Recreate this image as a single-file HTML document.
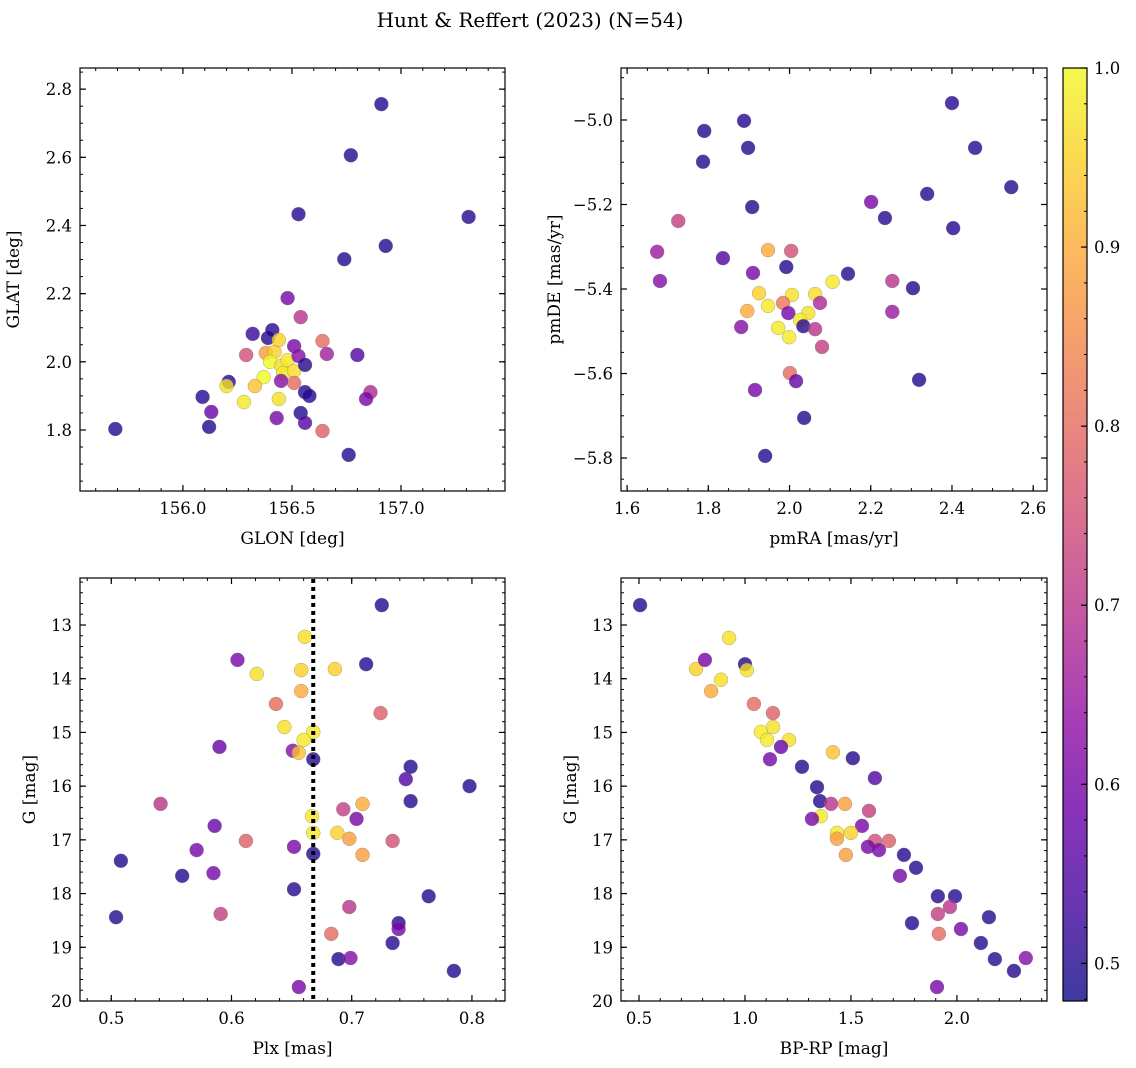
<!DOCTYPE html>
<html><head><meta charset="utf-8"><style>
html,body{margin:0;padding:0;background:#fff}
svg{display:block;font-family:"DejaVu Serif","Liberation Serif",serif}
</style></head><body>
<svg id="c" width="1136" height="1068" viewBox="0 0 1136 1068" xmlns="http://www.w3.org/2000/svg">
<text x="530" y="27" font-size="20" text-anchor="middle">Hunt &amp; Reffert (2023) (N=54)</text>
</svg>
<script>
// Panel 1: GLON, GLAT, prob
const p1Glon=[156.91,156.77,156.53,157.31,156.93,156.74,156.48,156.54,156.32,156.39,156.41,156.51,156.64,156.66,156.80,156.29,156.38,156.42,156.44,156.40,156.45,156.48,156.46,156.37,156.51,156.53,156.51,156.45,156.56,156.56,156.58,156.21,156.33,156.09,156.28,156.44,156.86,156.84,156.13,156.12,156.43,156.54,156.56,156.64,156.76,155.69,156.20];
const p1Glat=[2.756,2.606,2.433,2.425,2.340,2.301,2.187,2.131,2.082,2.070,2.093,2.046,2.061,2.023,2.020,2.020,2.026,2.029,2.064,2.000,1.988,2.005,1.967,1.955,1.973,2.017,1.938,1.944,1.991,1.911,1.900,1.941,1.929,1.897,1.882,1.891,1.911,1.891,1.853,1.809,1.835,1.850,1.821,1.797,1.727,1.803,1.929];
const p1Prob=[0.5,0.5,0.5,0.5,0.5,0.5,0.6,0.7,0.52,0.5,0.5,0.6,0.8,0.66,0.55,0.75,0.88,0.95,0.95,1.0,0.97,0.98,0.98,1.0,0.97,0.62,0.8,0.62,0.5,0.5,0.5,0.5,0.93,0.5,0.98,0.97,0.68,0.6,0.58,0.5,0.6,0.5,0.55,0.78,0.5,0.5,0.97];
// Panel 2: pmRA, pmDE, prob
const p2Pmra=[2.40,1.888,1.790,1.898,2.457,1.787,2.546,1.908,2.339,2.201,1.726,2.235,2.403,1.674,1.947,2.004,1.836,1.681,1.992,1.910,2.144,2.253,2.106,2.304,1.925,2.006,2.063,1.984,2.075,1.947,2.046,1.997,1.896,2.253,2.026,2.034,1.972,1.881,2.063,1.999,2.080,2.001,2.016,2.319,1.915,2.036,1.940];
const p2Pmde=[-4.96,-5.002,-5.026,-5.066,-5.066,-5.099,-5.159,-5.206,-5.175,-5.194,-5.239,-5.232,-5.256,-5.312,-5.308,-5.31,-5.327,-5.381,-5.348,-5.362,-5.364,-5.381,-5.383,-5.398,-5.41,-5.414,-5.412,-5.433,-5.433,-5.44,-5.457,-5.457,-5.452,-5.454,-5.473,-5.488,-5.492,-5.49,-5.495,-5.514,-5.537,-5.599,-5.618,-5.615,-5.639,-5.705,-5.795];
const p2Prob=[0.5,0.5,0.5,0.5,0.5,0.5,0.5,0.5,0.5,0.6,0.72,0.5,0.5,0.65,0.9,0.75,0.55,0.62,0.5,0.6,0.5,0.7,0.98,0.5,0.95,0.97,0.97,0.82,0.68,0.98,0.97,0.6,0.9,0.65,0.98,0.5,0.98,0.62,0.7,0.98,0.72,0.8,0.58,0.5,0.6,0.5,0.5];
// Panel 3: Plx, G, prob
const p3Plx=[0.725,0.661,0.605,0.621,0.658,0.686,0.712,0.658,0.637,0.724,0.644,0.668,0.660,0.590,0.651,0.656,0.668,0.749,0.745,0.798,0.541,0.749,0.709,0.693,0.667,0.704,0.586,0.668,0.688,0.698,0.734,0.612,0.652,0.571,0.668,0.709,0.508,0.559,0.585,0.652,0.764,0.698,0.591,0.504,0.739,0.739,0.683,0.734,0.689,0.699,0.785,0.656];
const p3G=[12.63,13.22,13.65,13.91,13.84,13.82,13.73,14.23,14.47,14.64,14.90,14.99,15.14,15.27,15.34,15.38,15.50,15.64,15.87,16.0,16.33,16.28,16.33,16.43,16.56,16.61,16.74,16.87,16.87,16.98,17.02,17.02,17.13,17.19,17.26,17.28,17.39,17.67,17.62,17.92,18.05,18.25,18.38,18.44,18.55,18.66,18.75,18.92,19.22,19.20,19.44,19.74];
const p3Prob=[0.5,0.97,0.6,0.97,0.95,0.95,0.5,0.9,0.8,0.78,0.97,0.98,0.98,0.58,0.62,0.93,0.5,0.5,0.55,0.5,0.7,0.5,0.9,0.72,0.98,0.6,0.58,0.98,0.95,0.88,0.75,0.78,0.6,0.6,0.5,0.88,0.5,0.5,0.6,0.5,0.5,0.7,0.72,0.5,0.5,0.6,0.8,0.5,0.5,0.62,0.5,0.6];
const plxLine=[0.668];
// Panel 4: BP-RP, G, prob
const p4Color=[0.505,0.925,0.769,0.811,1.0,1.009,0.887,0.840,1.042,1.132,1.132,1.075,1.104,1.208,1.170,1.118,1.415,1.509,1.269,1.613,1.340,1.354,1.406,1.472,1.585,1.358,1.552,1.316,1.434,1.500,1.434,1.613,1.679,1.580,1.632,1.476,1.750,1.807,1.731,1.991,1.910,1.967,1.910,2.151,1.788,2.019,1.915,2.113,2.179,2.325,2.269,1.906];
const p4G=[12.63,13.24,13.82,13.65,13.73,13.84,14.02,14.23,14.47,14.64,14.90,14.99,15.14,15.14,15.27,15.50,15.37,15.48,15.64,15.85,16.02,16.28,16.33,16.33,16.46,16.56,16.74,16.61,16.87,16.87,16.98,17.02,17.02,17.13,17.19,17.28,17.28,17.52,17.67,18.05,18.05,18.25,18.38,18.44,18.55,18.66,18.75,18.92,19.22,19.20,19.44,19.74];
const p4Prob=[0.5,0.97,0.95,0.6,0.5,0.97,0.97,0.9,0.8,0.78,0.97,0.98,0.98,0.97,0.58,0.6,0.93,0.5,0.5,0.55,0.5,0.5,0.7,0.88,0.72,0.98,0.6,0.6,0.98,0.95,0.88,0.75,0.78,0.6,0.6,0.88,0.5,0.5,0.6,0.5,0.5,0.7,0.72,0.5,0.5,0.6,0.8,0.5,0.5,0.62,0.5,0.6];
const cbTicks=[0.5,0.6,0.7,0.8,0.9,1.0];

const NS='http://www.w3.org/2000/svg';
const svg=document.getElementById('c');
function mk(tag,attrs,parent){const e=document.createElementNS(NS,tag);for(const k in attrs)e.setAttribute(k,attrs[k]);(parent||svg).appendChild(e);return e;}
const stops=['#0d0887','#41049d','#6a00a8','#8f0da4','#b12a90','#cc4778','#e16462','#f2844b','#fca636','#fcce25','#f0f921'];
const PMIN=0.479,PMAX=1.0;
function hex(h){return [1,3,5].map(i=>parseInt(h.substr(i,2),16));}
function plasma(t){t=Math.max(0,Math.min(1,t));const s=t*10,i=Math.min(9,Math.floor(s)),f=s-i;const a=hex(stops[i]),b=hex(stops[i+1]);return 'rgb('+a.map((v,k)=>Math.round(v+(b[k]-v)*f)).join(',')+')';}
function cmap(p){return plasma((p-PMIN)/(PMAX-PMIN));}
function fmt(v,d){const s=v.toFixed(d);return v<0?'\u2212'+s.slice(1):s;}

function panel(name,L,T,W,H,xd,yd,xt,xmin,yt,ymin,xdec,ydec,xlab,ylab,xs,ys,ps){
  const sx=v=>L+(v-xd[0])/(xd[1]-xd[0])*W;
  const sy=v=>T+(v-yd[0])/(yd[1]-yd[0])*H;
  const g=mk('g',{});
  
  
  const pts=mk('g',{},g);
  
  
  for(let i=0;i<xs.length;i++){
    const c=mk('circle',{cx:sx(xs[i]),cy:sy(ys[i]),r:7,fill:cmap(ps[i]),'fill-opacity':0.8,stroke:'#777','stroke-width':0.5,'stroke-opacity':0.6},pts);
    
    
  }
  const ax=mk('g',{},g);
  
  
  const inX=v=>v>=Math.min(...xd)-1e-9&&v<=Math.max(...xd)+1e-9;
  const inY=v=>v>=Math.min(...yd)-1e-9&&v<=Math.max(...yd)+1e-9;
  for(let k=-400;k<=400;k++){const v=xmin[0]+k*xmin[1];if(!inX(v))continue;const x=sx(v);
    mk('line',{x1:x,x2:x,y1:T+H,y2:T+H-3,stroke:'#000','stroke-width':1},ax);mk('line',{x1:x,x2:x,y1:T,y2:T+3,stroke:'#000','stroke-width':1},ax);}
  for(let k=-400;k<=400;k++){const v=ymin[0]+k*ymin[1];if(!inY(v))continue;const y=sy(v);
    mk('line',{x1:L,x2:L+3,y1:y,y2:y,stroke:'#000','stroke-width':1},ax);mk('line',{x1:L+W,x2:L+W-3,y1:y,y2:y,stroke:'#000','stroke-width':1},ax);}
  xt.forEach(v=>{const x=sx(v);
    mk('line',{x1:x,x2:x,y1:T+H,y2:T+H-6,stroke:'#000','stroke-width':1.2},ax);mk('line',{x1:x,x2:x,y1:T,y2:T+6,stroke:'#000','stroke-width':1.2},ax);
    const t=mk('text',{x:x,y:T+H+23,'font-size':16.5,'text-anchor':'middle'},ax);t.textContent=fmt(v,xdec);
    });
  yt.forEach(v=>{const y=sy(v);
    mk('line',{x1:L,x2:L+6,y1:y,y2:y,stroke:'#000','stroke-width':1.2},ax);mk('line',{x1:L+W,x2:L+W-6,y1:y,y2:y,stroke:'#000','stroke-width':1.2},ax);
    const t=mk('text',{x:L-8,y:y+6,'font-size':16.5,'text-anchor':'end'},ax);t.textContent=fmt(v,ydec);
    });
  mk('rect',{x:L,y:T,width:W,height:H,fill:'none',stroke:'#000','stroke-width':1.2},ax);
  const xl=mk('text',{x:L+W/2,y:T+H+53,'font-size':17,'text-anchor':'middle'},ax);xl.textContent=xlab;
  
  const yx=L-(ydec===0?45:61);
  const yl=mk('text',{x:yx,y:T+H/2,'font-size':17,'text-anchor':'middle',transform:`rotate(-90 ${yx} ${T+H/2})`},ax);yl.textContent=ylab;
  
  return {sx,sy};
}
function rng(a,b,s){const r=[];for(let v=a;v<=b+1e-9;v+=s)r.push(Math.round(v*1000)/1000);return r;}

panel('glon-glat-panel',80,68,425,423,[155.528,157.477],[2.862,1.621],rng(156,157,0.5),[156,0.1],rng(1.8,2.8,0.2),[1.8,0.05],1,1,'GLON [deg]','GLAT [deg]',p1Glon,p1Glat,p1Prob);
panel('proper-motion-panel',621,68,426,423,[1.585,2.634],[-4.877,-5.878],rng(1.6,2.6,0.2),[1.6,0.05],[-5.8,-5.6,-5.4,-5.2,-5.0],[-5.0,0.05],1,1,'pmRA [mas/yr]','pmDE [mas/yr]',p2Pmra,p2Pmde,p2Prob);
const a3=panel('parallax-mag-panel',80,578,425,423,[0.474,0.8275],[12.125,20.0],rng(0.5,0.8,0.1),[0.5,0.02],rng(13,20,1),[13,0.2],1,0,'Plx [mas]','G [mag]',p3Plx,p3G,p3Prob);
panel('cmd-panel',621,578,426,423,[0.415,2.425],[12.125,20.0],rng(0.5,2.0,0.5),[0.5,0.1],rng(13,20,1),[13,0.2],1,0,'BP-RP [mag]','G [mag]',p4Color,p4G,p4Prob);

const vl=mk('line',{x1:a3.sx(plxLine[0]),x2:a3.sx(plxLine[0]),y1:579,y2:1000,stroke:'#000','stroke-width':4,'stroke-dasharray':'4,4'});



// colorbar
const cb=mk('g',{});


const defs=mk('defs',{},cb);
const lg=mk('linearGradient',{id:'pg',x1:0,y1:1,x2:0,y2:0},defs);
stops.forEach((s,i)=>mk('stop',{offset:i/10,'stop-color':s},lg));
const CBT=68,CBB=1001;
mk('rect',{x:1063,y:CBT,width:24,height:CBB-CBT,fill:'url(#pg)','fill-opacity':0.8},cb);
mk('rect',{x:1063,y:CBT,width:24,height:CBB-CBT,fill:'none',stroke:'#000','stroke-width':1.2},cb);
const cy=v=>CBB-(v-PMIN)/(PMAX-PMIN)*(CBB-CBT);
for(let v=0.48;v<=1.0001;v+=0.02){mk('line',{x1:1087,x2:1084,y1:cy(v),y2:cy(v),stroke:'#000','stroke-width':1},cb);}
cbTicks.forEach(v=>{mk('line',{x1:1087,x2:1081,y1:cy(v),y2:cy(v),stroke:'#000','stroke-width':1.2},cb);
  const t=mk('text',{x:1094,y:cy(v)+6,'font-size':16.5},cb);t.textContent=v.toFixed(1);
  });
</script>
</body></html>
